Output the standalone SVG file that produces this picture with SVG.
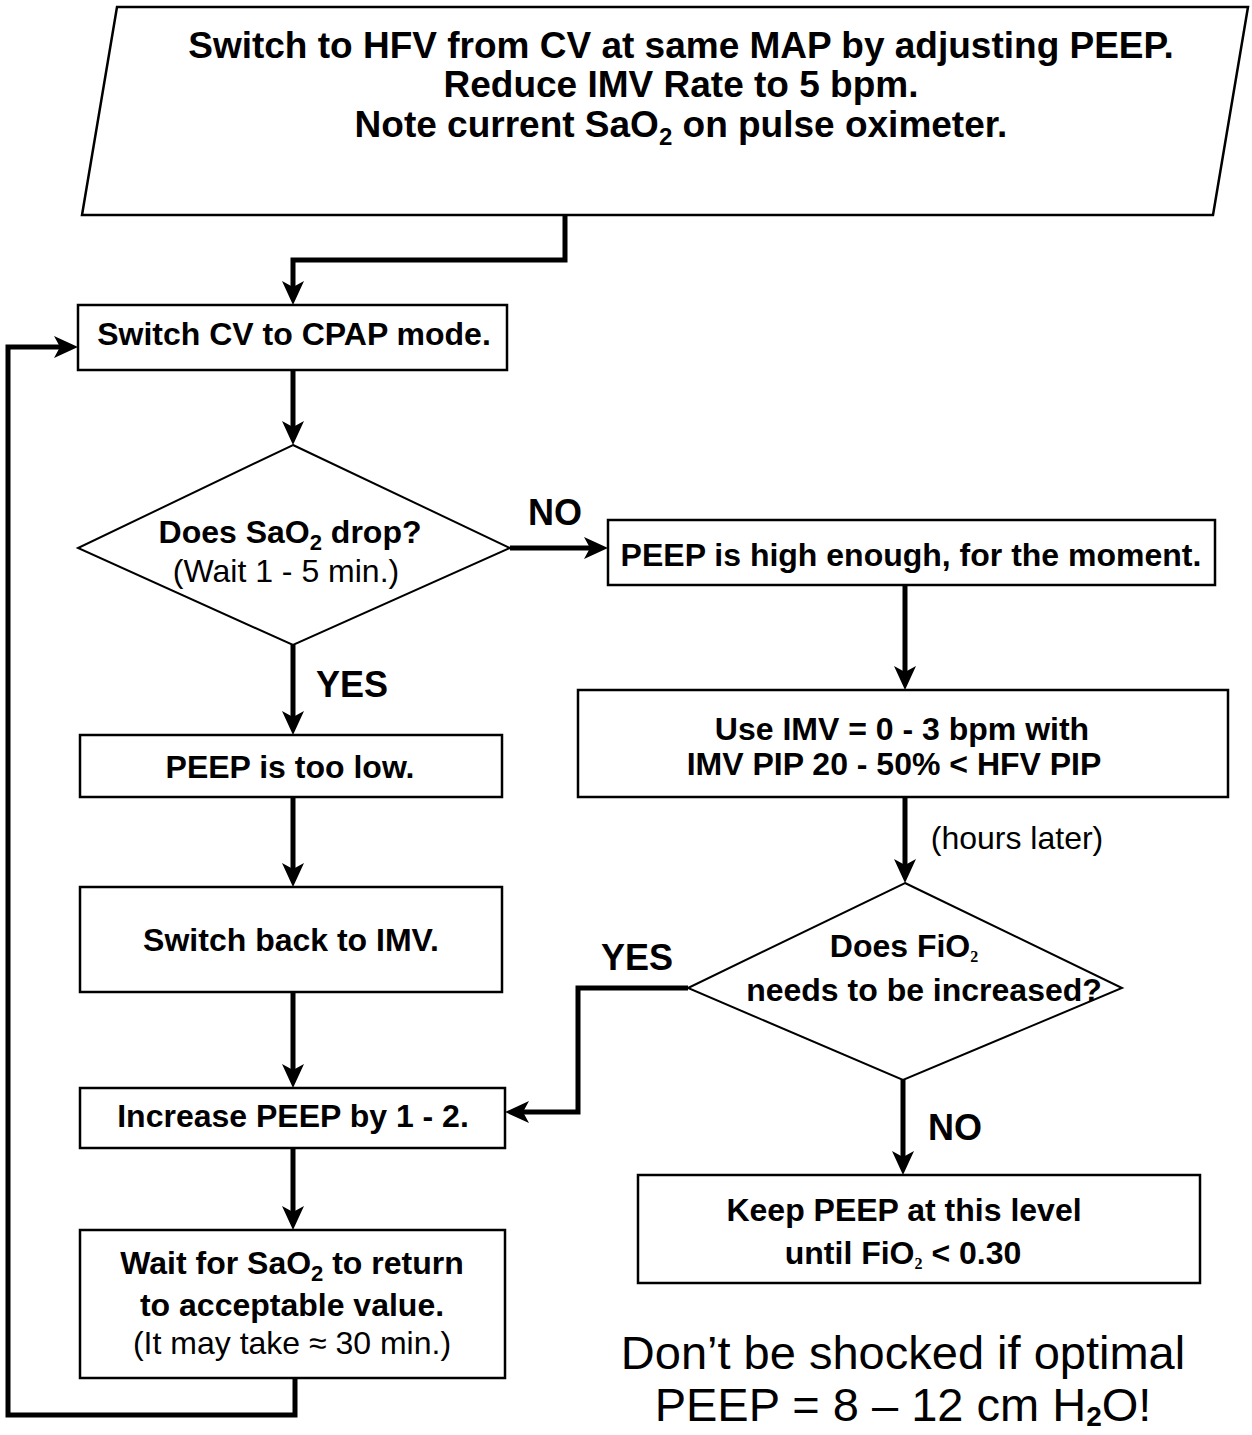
<svg xmlns="http://www.w3.org/2000/svg" width="1252" height="1435" viewBox="0 0 1252 1435">
<style>
  .shape { fill: #fff; stroke: #000; stroke-width: 2.5; }
  .dia { fill: #fff; stroke: #000; stroke-width: 2; }
  .conn { fill: none; stroke: #000; stroke-width: 5; stroke-linejoin: miter; }
  .b { font-family: "Liberation Sans", Arial, sans-serif; font-weight: bold; font-size: 32px; fill: #000; text-anchor: middle; }
  .r { font-family: "Liberation Sans", Arial, sans-serif; font-weight: normal; font-size: 32px; fill: #000; text-anchor: middle; }
  .top { font-size: 37px; }
  .lbl { font-family: "Liberation Sans", Arial, sans-serif; font-weight: bold; font-size: 36px; fill: #000; }
  .note { font-family: "Liberation Sans", Arial, sans-serif; font-size: 47px; fill: #000; text-anchor: middle; }
</style>
<defs>
  <marker id="ah" markerUnits="userSpaceOnUse" markerWidth="26" markerHeight="22" viewBox="0 0 26 22" refX="12" refY="11" orient="auto">
    <path d="M0,0 L24,11 L0,22 L6,11 z" fill="#000"/>
  </marker>
</defs>

<g id="connectors">
  <path class="conn" d="M565,215 V260 H293 V293" marker-end="url(#ah)"/>
  <path class="conn" d="M293,370 V433" marker-end="url(#ah)"/>
  <path class="conn" d="M510,548 H596" marker-end="url(#ah)"/>
  <path class="conn" d="M905,585 V678" marker-end="url(#ah)"/>
  <path class="conn" d="M905,797 V871" marker-end="url(#ah)"/>
  <path class="conn" d="M688,988 H578 V1112 H517" marker-end="url(#ah)"/>
  <path class="conn" d="M903,1080 V1163" marker-end="url(#ah)"/>
  <path class="conn" d="M293,645 V723" marker-end="url(#ah)"/>
  <path class="conn" d="M293,797 V875" marker-end="url(#ah)"/>
  <path class="conn" d="M293,992 V1076" marker-end="url(#ah)"/>
  <path class="conn" d="M293,1148 V1218" marker-end="url(#ah)"/>
  <path class="conn" d="M295,1378 V1415 H8 V347 H66" marker-end="url(#ah)"/>
  <text class="lbl" x="528" y="525">NO</text>
  <text class="lbl" x="316" y="697">YES</text>
  <text class="lbl" x="601" y="970">YES</text>
  <text class="lbl" x="928" y="1140">NO</text>
  <text class="r" x="1017" y="849">(hours later)</text>
</g>

<g id="start">
  <polygon class="shape" points="117,7 1248,7 1213,215 82,215"/>
  <text class="b top" x="681" y="58">Switch to HFV from CV at same MAP by adjusting PEEP.</text>
  <text class="b top" x="681" y="97">Reduce IMV Rate to 5 bpm.</text>
  <text class="b top" x="681" y="137">Note current SaO<tspan font-size="24" dy="8">2</tspan><tspan dy="-8"> on pulse oximeter.</tspan></text>
</g>

<g id="cpap">
  <rect class="shape" x="78" y="305" width="429" height="65"/>
  <text class="b" x="294" y="345">Switch CV to CPAP mode.</text>
</g>

<g id="q-sao2">
  <polygon class="dia" points="293,445 510,548 293,645 78,548"/>
  <text class="b" x="290" y="543">Does SaO<tspan font-size="22" dy="7">2</tspan><tspan dy="-7"> drop?</tspan></text>
  <text class="r" x="286" y="582">(Wait 1 - 5 min.)</text>
</g>

<g id="high-enough">
  <rect class="shape" x="608" y="520" width="607" height="65"/>
  <text class="b" x="911" y="566">PEEP is high enough, for the moment.</text>
</g>

<g id="use-imv">
  <rect class="shape" x="578" y="690" width="650" height="107"/>
  <text class="b" x="902" y="740">Use IMV = 0 - 3 bpm with</text>
  <text class="b" x="894" y="775">IMV PIP 20 - 50% &lt; HFV PIP</text>
</g>

<g id="q-fio2">
  <polygon class="dia" points="905,883 1122,988 903,1080 688,988"/>
  <text class="b" x="904" y="957">Does FiO<tspan font-size="16" font-family="Liberation Serif, serif" dy="5">2</tspan></text>
  <text class="b" x="924" y="1001">needs to be increased?</text>
</g>

<g id="keep">
  <rect class="shape" x="638" y="1175" width="562" height="108"/>
  <text class="b" x="904" y="1221">Keep PEEP at this level</text>
  <text class="b" x="903" y="1264">until FiO<tspan font-size="16" font-family="Liberation Serif, serif" dy="5">2</tspan><tspan dy="-5"> &lt; 0.30</tspan></text>
</g>

<g id="too-low">
  <rect class="shape" x="80" y="735" width="422" height="62"/>
  <text class="b" x="290" y="778">PEEP is too low.</text>
</g>

<g id="switch-back">
  <rect class="shape" x="80" y="887" width="422" height="105"/>
  <text class="b" x="291" y="951">Switch back to IMV.</text>
</g>

<g id="increase">
  <rect class="shape" x="80" y="1088" width="425" height="60"/>
  <text class="b" x="293" y="1127">Increase PEEP by 1 - 2.</text>
</g>

<g id="wait">
  <rect class="shape" x="80" y="1230" width="425" height="148"/>
  <text class="b" x="292" y="1274">Wait for SaO<tspan font-size="22" dy="7">2</tspan><tspan dy="-7"> to return</tspan></text>
  <text class="b" x="292" y="1316">to acceptable value.</text>
  <text class="r" x="292" y="1354">(It may take ≈ 30 min.)</text>
</g>

<g id="note">
  <text class="note" x="903" y="1369">Don’t be shocked if optimal</text>
  <text class="note" x="903" y="1421">PEEP = 8 – 12 cm H<tspan font-size="28" font-weight="bold" dy="5">2</tspan><tspan dy="-5">O!</tspan></text>
</g>
</svg>
